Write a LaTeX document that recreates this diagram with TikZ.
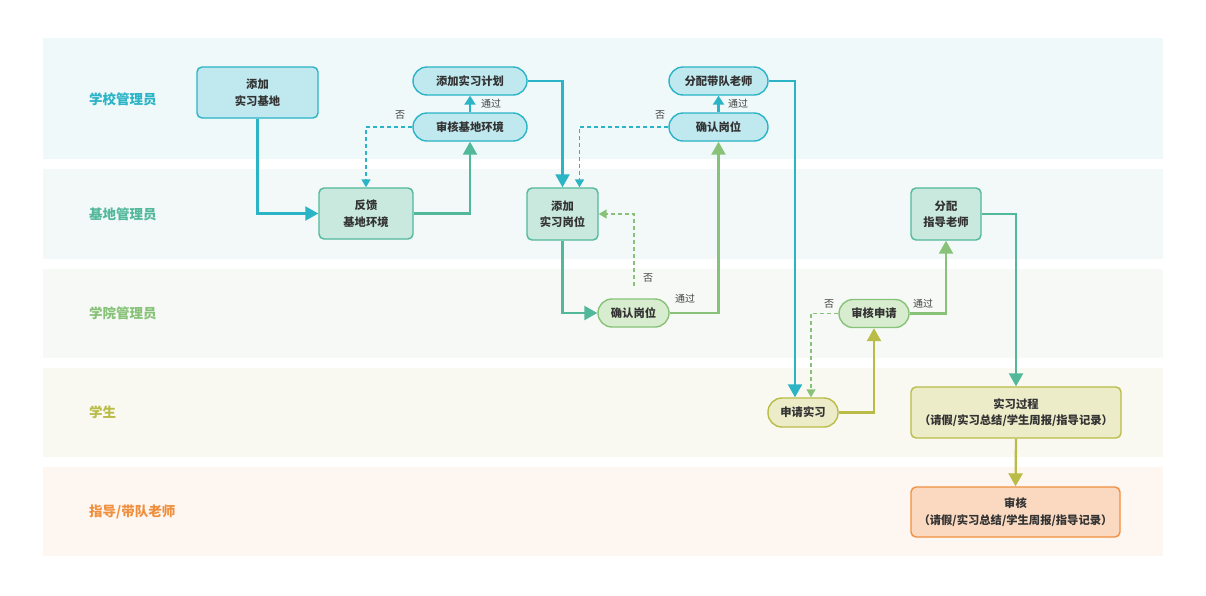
\documentclass[tikz,border=0pt]{standalone}
\usepackage{fontspec}
\setmainfont{Noto Sans CJK SC}
\usetikzlibrary{arrows.meta}
\definecolor{tealc}{HTML}{2BB3C6}
\definecolor{tealf}{HTML}{BFE8EF}
\definecolor{gtc}{HTML}{52B89A}
\definecolor{gtf}{HTML}{C9E9DF}
\definecolor{grc}{HTML}{88C279}
\definecolor{grf}{HTML}{D8EDCF}
\definecolor{olc}{HTML}{B9BC47}
\definecolor{olf}{HTML}{ECECC9}
\definecolor{orc}{HTML}{F0903E}
\definecolor{orf}{HTML}{FBD9C0}
\definecolor{laneA}{HTML}{EFF9FA}
\definecolor{laneB}{HTML}{F2F9F8}
\definecolor{laneC}{HTML}{F6F9F6}
\definecolor{laneD}{HTML}{F9F9F2}
\definecolor{laneE}{HTML}{FEF6F1}
\definecolor{txt}{HTML}{333333}
\definecolor{lbl}{HTML}{444444}
\tikzset{
  box/.style={draw, rounded corners=5pt, line width=1.4pt, align=center, inner sep=0pt,
    text=txt, font=\bfseries\fontsize{11.3}{16.5}\selectfont},
  pill/.style={box, rounded corners=14pt},
  lanelbl/.style={anchor=west, inner sep=0pt, font=\bfseries\fontsize{13.5}{16}\selectfont},
  elbl/.style={text=lbl, font=\fontsize{10}{12}\selectfont, inner sep=0pt},
  flow/.style={line width=2.3pt, -{Triangle[length=13pt,width=14pt]}},
  flowsm/.style={line width=2.3pt, -{Triangle[length=9pt,width=11pt]}},
  back/.style={line width=1.5pt, dash pattern=on 4pt off 3pt, -{Triangle[length=8pt,width=9pt]}},
}
\begin{document}
\begin{tikzpicture}[x=1pt,y=-1pt]
\useasboundingbox (0,0) rectangle (1206,595);
% lanes
\fill[laneA] (43,38) rectangle (1163,159);
\fill[laneB] (43,169) rectangle (1163,259);
\fill[laneC] (43,269) rectangle (1163,358);
\fill[laneD] (43,368) rectangle (1163,457);
\fill[laneE] (43,467) rectangle (1163,556);
\node[lanelbl, text=tealc] (L1) at (89,99) {学校管理员};
\node[lanelbl, text=gtc] (L2) at (89,214) {基地管理员};
\node[lanelbl, text=grc] (L3) at (89,313) {学院管理员};
\node[lanelbl, text=olc] (L4) at (89,412) {学生};
\node[lanelbl, text=orc] (L5) at (89,512) {指导/带队老师};
% nodes
\node[box, draw=tealc, fill=tealf, minimum width=121pt, minimum height=51pt] (jd) at (257.5,92.5) {添加\\实习基地};
\node[pill, draw=tealc, fill=tealf, minimum width=114pt, minimum height=28pt] (jh) at (470,81) {添加实习计划};
\node[pill, draw=tealc, fill=tealf, minimum width=114pt, minimum height=28pt] (shj) at (470,127) {审核基地环境};
\node[box, draw=gtc, fill=gtf, minimum width=94pt, minimum height=51pt] (fk) at (366,213.5) {反馈\\基地环境};
\node[box, draw=gtc, fill=gtf, minimum width=71pt, minimum height=52pt] (gw) at (562.5,214) {添加\\实习岗位};
\node[pill, draw=tealc, fill=tealf, minimum width=99pt, minimum height=28pt] (fd) at (718.5,81) {分配带队老师};
\node[pill, draw=tealc, fill=tealf, minimum width=99pt, minimum height=28pt] (qr1) at (718.5,127) {确认岗位};
\node[pill, draw=grc, fill=grf, minimum width=71pt, minimum height=28pt] (qr2) at (633.5,313) {确认岗位};
\node[box, draw=gtc, fill=gtf, minimum width=70pt, minimum height=52pt] (fz) at (946,214) {分配\\指导老师};
\node[pill, draw=grc, fill=grf, minimum width=70pt, minimum height=28pt] (sh) at (874,313.5) {审核申请};
\node[pill, draw=olc, fill=olf, minimum width=70pt, minimum height=29pt] (sq) at (803,412.5) {申请实习};
\node[box, draw=olc, fill=olf, minimum width=210pt, minimum height=51pt] (gc) at (1016,412.5) {实习过程\\（请假/实习总结/学生周报/指导记录）};
\node[box, draw=orc, fill=orf, minimum width=209pt, minimum height=50pt] (sh2) at (1015.5,512) {审核\\（请假/实习总结/学生周报/指导记录）};
% edges
\draw[flow, tealc] (jd.south) |- (fk.west);
\draw[flow, gtc] (fk.east) -| (shj.south);
\draw[flowsm, tealc] (shj.north) -- (jh.south);
\draw[back, tealc] (shj.west) -| (fk.north);
\draw[flow, tealc] (jh.east) -| (gw.north);
\draw[back, tealc] (qr1.west) -| ([xshift=17pt]gw.north);
\draw[flowsm, tealc] (qr1.north) -- (fd.south);
\draw[flow, gtc] (gw.south) |- (qr2.west);
\draw[flow, grc] (qr2.east) -| (qr1.south);
\draw[back, grc] ([xshift=0.5pt,yshift=12pt]qr2.north) |- (gw.east);
\draw[flow, tealc] (fd.east) -| ([xshift=-8pt]sq.north);
\draw[back, grc] (sh.west) -| ([xshift=8pt]sq.north);
\draw[flow, olc] (sq.east) -| (sh.south);
\draw[flow, grc] (sh.east) -| (fz.south);
\draw[flow, gtc] (fz.east) -| (gc.north);
\draw[flow, olc] (gc.south) -- (sh2.north);
% labels
\node[elbl] (t1) at (491,104) {通过};
\node[elbl] (n1) at (400,115) {否};
\node[elbl] (t2) at (738,104) {通过};
\node[elbl] (n2) at (660,115) {否};
\node[elbl] (n3) at (648,278) {否};
\node[elbl] (t3) at (685,299) {通过};
\node[elbl] (n4) at (829,304) {否};
\node[elbl] (t4) at (923,304) {通过};
\end{tikzpicture}
\end{document}
